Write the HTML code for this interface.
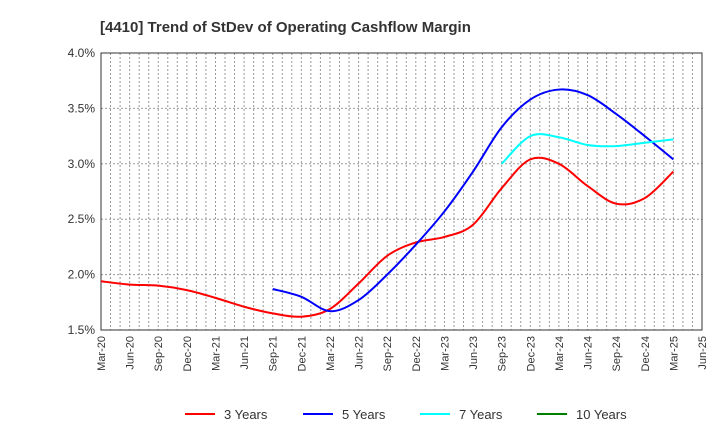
<!DOCTYPE html>
<html><head><meta charset="utf-8"><style>
body{margin:0;background:#fff;font-family:"Liberation Sans",sans-serif}
</style></head><body>
<svg id="chart" width="720" height="440" xmlns="http://www.w3.org/2000/svg" font-family="Liberation Sans, sans-serif">
<text x="100" y="32" font-size="15" font-weight="bold" fill="#333">[4410]  Trend of StDev of Operating Cashflow Margin</text>
<g id="grid"></g>
<g id="axes"></g>
<g id="series"></g>
<g id="legend"></g>
</svg>
<script>
const xLabels=["Mar-20","Jun-20","Sep-20","Dec-20","Mar-21","Jun-21","Sep-21","Dec-21","Mar-22","Jun-22","Sep-22","Dec-22","Mar-23","Jun-23","Sep-23","Dec-23","Mar-24","Jun-24","Sep-24","Dec-24","Mar-25","Jun-25"];
const yTicks=[1.5,2.0,2.5,3.0,3.5,4.0];
const red=[1.94,1.91,1.90,1.86,1.79,1.71,1.65,1.62,1.69,1.92,2.17,2.29,2.34,2.45,2.78,3.04,3.00,2.80,2.64,2.69,2.93];
const blueStart=6;
const blue=[1.87,1.80,1.67,1.77,2.00,2.27,2.57,2.93,3.33,3.58,3.67,3.62,3.45,3.25,3.04];
const cyanStart=14;
const cyan=[3.00,3.25,3.24,3.17,3.16,3.19,3.22];
const legendNames=["3 Years","5 Years","7 Years","10 Years"];
const legendColors=["#ff0000","#0000ff","#00ffff","#008000"];
const L=101,R=702,T=53,B=330;
const ns="http://www.w3.org/2000/svg";
const X=i=>L+i*(R-L)/21;
const Y=v=>B-(v-1.5)/2.5*(B-T);
function mk(tag,attrs,parent){const e=document.createElementNS(ns,tag);for(const k in attrs)e.setAttribute(k,attrs[k]);parent.appendChild(e);return e;}
const grid=document.getElementById('grid'),axes=document.getElementById('axes'),ser=document.getElementById('series'),leg=document.getElementById('legend');
for(let m=1;m<63;m++){const x=L+m*(R-L)/63;
const g=mk('line',{x1:x,x2:x,y1:T,y2:B,stroke:'#999','stroke-dasharray':'2,2','stroke-width':1},grid);

}
yTicks.forEach(v=>{const y=Y(v);
const g=mk('line',{x1:L,x2:R,y1:y,y2:y,stroke:'#999','stroke-dasharray':'2,2','stroke-width':1},grid);


const t=mk('text',{x:L-6,y:y+4,'text-anchor':'end','font-size':12,fill:'#333'},axes);
t.textContent=v.toFixed(1)+'%';

});
const fr=mk('rect',{x:L,y:T,width:R-L,height:B-T,fill:'none',stroke:'#333'},axes);


xLabels.forEach((s,i)=>{const x=X(i);
const t=mk('text',{x:x+4,y:B+6,'text-anchor':'end','font-size':11,fill:'#333',transform:`rotate(-90 ${x+4} ${B+6})`},axes);
t.textContent=s;

});
function path(vals,start){const p=vals.map((v,i)=>[X(start+i),Y(v)]);let d=`M${p[0][0]},${p[0][1]}`;
for(let i=0;i<p.length-1;i++){const p0=p[i-1]||p[i],p1=p[i],p2=p[i+1],p3=p[i+2]||p2;
d+=` C${p1[0]+(p2[0]-p0[0])/6},${p1[1]+(p2[1]-p0[1])/6} ${p2[0]-(p3[0]-p1[0])/6},${p2[1]-(p3[1]-p1[1])/6} ${p2[0]},${p2[1]}`;}return d;}
[[red,0,'#ff0000','series-3-years'],[blue,blueStart,'#0000ff','series-5-years'],[cyan,cyanStart,'#00ffff','series-7-years']].forEach(([v,s,c,n])=>{
const e=mk('path',{d:path(v,s),fill:'none',stroke:c,'stroke-width':2},ser);

});
const lx=[185,303,420,537];
legendNames.forEach((n,i)=>{
const g=mk('g',{},leg);


mk('line',{x1:lx[i],x2:lx[i]+30,y1:414,y2:414,stroke:legendColors[i],'stroke-width':2},g);
const t=mk('text',{x:lx[i]+39,y:419,'font-size':13,fill:'#333'},g);
t.textContent=n;});
</script>
</body></html>
